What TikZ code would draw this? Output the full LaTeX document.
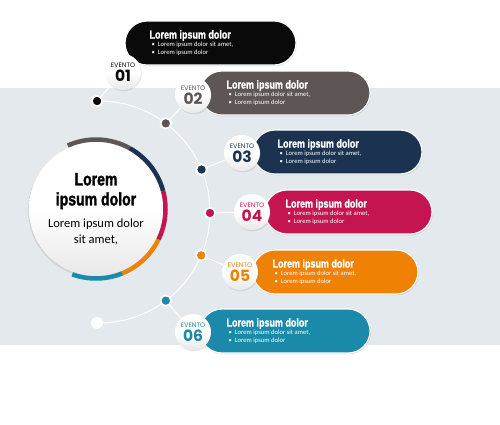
\documentclass[tikz,border=0pt]{standalone}
\usepackage{fontspec}
\setmainfont{Carlito}
\newfontfamily\titlefont{Liberation Sans}[FakeStretch=0.78, BoldFeatures={FakeBold=1.6}]
\newfontfamily\numfont{Poppins}
\usetikzlibrary{shadows}
\usetikzlibrary{calc}
\usetikzlibrary{positioning}

\definecolor{band}{HTML}{E3E9ED}
\definecolor{evblack}{HTML}{0A0A0A}
\definecolor{evgray}{HTML}{5D5654}
\definecolor{evnavy}{HTML}{1B3351}
\definecolor{evred}{HTML}{C41550}
\definecolor{evorange}{HTML}{EF8204}
\definecolor{evteal}{HTML}{1B89AA}

\newcommand{\evtitle}[1]{{\titlefont\bfseries\fontsize{11.5}{11.5}\selectfont #1}}
\newcommand{\evitem}[1]{\hspace{2pt}\textbullet\hspace{3pt}#1}
\newcommand{\evinfo}{\evtitle{Lorem ipsum dolor}\\[-0.5pt] \evitem{Lorem ipsum dolor sit amet,}\\ \evitem{Lorem ipsum dolor}}
\newcommand{\evbadge}[1]{{\numfont\fontsize{6.5}{6.5}\selectfont EVENTO}\\[2.5pt]{\numfont\bfseries\fontsize{15.5}{15.5}\selectfont #1}}
\newcommand{\maintitle}[1]{{\titlefont\bfseries\fontsize{18}{20}\selectfont #1}}

\pgfdeclarelayer{back}
\pgfdeclarelayer{wires}
\pgfsetlayers{back,wires,main}

\tikzset{
  pill/.style={fill=#1, draw=white, line width=1.2pt, rounded corners=22pt, minimum height=44pt, inner sep=0pt,
    drop shadow={opacity=0.25, shadow xshift=0.8pt, shadow yshift=-1.2pt}},
  badge/.style={circle, minimum size=36pt, inner sep=0pt, align=center, text=#1,
    top color=white, bottom color=gray!18, middle color=white,
    drop shadow={opacity=0.2, shadow xshift=0.8pt, shadow yshift=-1.2pt}},
  dot/.style={circle, fill=#1, draw=white, line width=1.8pt, minimum size=10.5pt, inner sep=0pt,
    drop shadow={opacity=0.2, shadow xshift=0.5pt, shadow yshift=-0.5pt}},
  info/.style={anchor=west, align=left, text=white, inner sep=0pt, font=\fontsize{6.6}{8.3}\selectfont},
  link/.style={draw=white, line width=1pt},
  ring/.style={draw=#1, line width=4.5pt},
}

\begin{document}
\begin{tikzpicture}[x=1pt, y=-1pt]
  \useasboundingbox (0,0) rectangle (500,424);
  \begin{pgfonlayer}{back}
    \fill[white] (0,0) rectangle (500,424);
    \fill[band] (0,88) rectangle (500,345);
  \end{pgfonlayer}

  % main disc
  \node[circle, minimum size=134pt, inner sep=0pt, align=center, font=\fontsize{12.5}{16}\selectfont,
        top color=white, bottom color=gray!18, middle color=white,
        drop shadow={opacity=0.2, shadow xshift=-1pt, shadow yshift=-1.5pt}] (main) at (96,209)
    {\maintitle{Lorem}\\[4pt] \maintitle{ipsum dolor}\\[6pt] Lorem ipsum dolor\\ sit amet,};
  \draw[ring=evgray] ([shift={(114:69.5pt)}]main.center) arc[start angle=114, end angle=61, radius=69.5pt];
  \draw[ring=evnavy] ([shift={(61:69.5pt)}]main.center) arc[start angle=61, end angle=15, radius=69.5pt];
  \draw[ring=evred] ([shift={(15:69.5pt)}]main.center) arc[start angle=15, end angle=-26, radius=69.5pt];
  \draw[ring=evorange] ([shift={(-26:69.5pt)}]main.center) arc[start angle=-26, end angle=-68, radius=69.5pt];
  \draw[ring=evteal] ([shift={(-68:69.5pt)}]main.center) arc[start angle=-68, end angle=-110, radius=69.5pt];

  % dots on the arc
  \coordinate (hub) at (99,212);
  \node[dot=evblack] (d1) at ($(hub)+(91:111pt)$) {};
  \node[dot=evgray] (d2) at ($(hub)+(53:111pt)$) {};
  \node[dot=evnavy] (d3) at ($(hub)+(22.5:111pt)$) {};
  \node[dot=evred] (d4) at ($(hub)+(-0.5:111pt)$) {};
  \node[dot=evorange] (d5) at ($(hub)+(-23:111pt)$) {};
  \node[dot=evteal] (d6) at ($(hub)+(-53:111pt)$) {};
  \node[dot=white] (d7) at ($(hub)+(-91:111pt)$) {};

  % pills
  \node[pill=evblack, minimum width=171pt] (p1) at (210.5,43) {};
  \node[pill=evgray, minimum width=170pt] (p2) at (285,93) {};
  \node[pill=evnavy, minimum width=169pt] (p3) at (337.5,152) {};
  \node[pill=evred, minimum width=167pt] (p4) at (348.5,212) {};
  \node[pill=evorange, minimum width=165pt] (p5) at (335.5,272) {};
  \node[pill=evteal, minimum width=170pt] (p6) at (285,331) {};

  \node[info] (i1) at ([xshift=25pt]p1.west) {\evinfo};
  \node[info] (i2) at ([xshift=27pt]p2.west) {\evinfo};
  \node[info] (i3) at ([xshift=25pt]p3.west) {\evinfo};
  \node[info] (i4) at ([xshift=21pt]p4.west) {\evinfo};
  \node[info] (i5) at ([xshift=20pt]p5.west) {\evinfo};
  \node[info] (i6) at ([xshift=27pt]p6.west) {\evinfo};

  % badges
  \node[badge=evblack] (b1) at (123,72) {\evbadge{01}};
  \node[badge=evgray] (b2) at (193,95) {\evbadge{02}};
  \node[badge=evnavy] (b3) at (242,153) {\evbadge{03}};
  \node[badge=evred] (b4) at (252,212) {\evbadge{04}};
  \node[badge=evorange] (b5) at (240,272) {\evbadge{05}};
  \node[badge=evteal] (b6) at (193,332) {\evbadge{06}};

  \begin{pgfonlayer}{wires}
    \draw[link] (d1.center) arc[start angle=91, end angle=-91, radius=111pt];
    \draw[link] (d1) -- (b1);
    \draw[link] (d2) -- (b2);
    \draw[link] (d3) -- (b3);
    \draw[link] (d4) -- (b4);
    \draw[link] (d5) -- (b5);
    \draw[link] (d6) -- (b6);
  \end{pgfonlayer}
\end{tikzpicture}
\end{document}
